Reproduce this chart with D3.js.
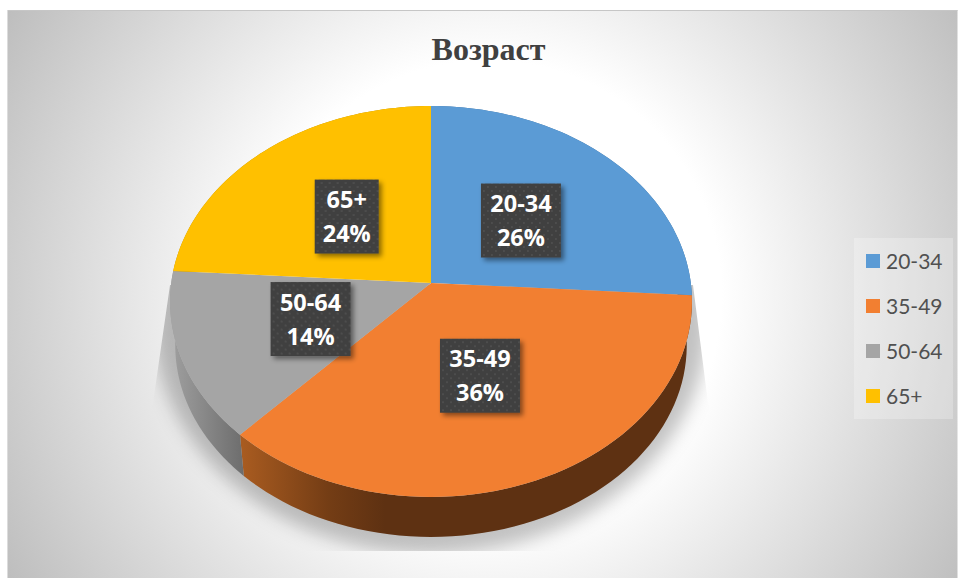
<!DOCTYPE html>
<html>
<head>
<meta charset="utf-8">
<script src="https://cdnjs.cloudflare.com/ajax/libs/d3/7.8.5/d3.min.js"></script>
<style>
	html, body { margin: 0; padding: 0; background: #fff; overflow: hidden; }
	svg { display: block; }
</style>
</head>
<body>
<div id="data-viz"></div>
<script>

const title = "Возраст"
const categories = ["20-34", "35-49", "50-64", "65+"]
const shares = [26, 36, 14, 24]
const topColours = ["#5b9bd5", "#f27f31", "#a5a5a5", "#ffc000"]

const width = 958, height = 578

// the disc is tipped back, so it goes through a small perspective divide
const disc = { cx: 431, cy: 283, ax: 259.8, ay: 193.7, tilt: 0.0946 }
const rim = { shrink: 0.98, drop: 44.3 }

const project = (angle, r = 1) => {

	let u = r * Math.sin(angle), v = r * Math.cos(angle), w = 1 + disc.tilt * v

	return [disc.cx + disc.ax * u / w, disc.cy - disc.ay * v / w]

}

const lower = (p) => [disc.cx + rim.shrink * (p[0] - disc.cx), disc.cy + rim.drop + rim.shrink * (p[1] - disc.cy)]

const arcPoints = (a, b) => d3.range(0, 61).map((i) => project(a + (b - a) * i / 60))

const line = d3.line()

const svg = d3.select("#data-viz").append("svg")
	.attr("width", width)
	.attr("height", height)

const defs = svg.append("defs")

const bg = defs.append("radialGradient")
	.attr("id", "bg")
	.attr("gradientUnits", "userSpaceOnUse")
	.attr("cx", 488).attr("cy", 294).attr("r", 556)

bg.append("stop").attr("offset", 0.42).attr("stop-color", "#fff")
bg.append("stop").attr("offset", 1).attr("stop-color", "#bebebe")

const sideGrad = (id, x1, x2, stops) => {

	let g = defs.append("linearGradient")
		.attr("id", id)
		.attr("gradientUnits", "userSpaceOnUse")
		.attr("x1", x1).attr("x2", x2).attr("y1", 0).attr("y2", 0)

	stops.forEach((s) => g.append("stop").attr("offset", s[0]).attr("stop-color", s[1]))

}

sideGrad("side0", 0, 1, [[0, "#3d6f9e"], [1, "#3d6f9e"]])
sideGrad("side1", 243, 385, [[0, "#a85b20"], [0.6, "#743d15"], [1, "#5e3112"]])
sideGrad("side2", 170, 245, [[0, "#a0a0a0"], [1, "#6c6c6c"]])
sideGrad("side3", 0, 1, [[0, "#b88b00"], [1, "#b88b00"]])

const blur = defs.append("filter")
	.attr("id", "blur")
	.attr("x", "-10%").attr("y", "-10%").attr("width", "120%").attr("height", "120%")

blur.append("feGaussianBlur").attr("stdDeviation", 9)

const drop = defs.append("filter")
	.attr("id", "drop")
	.attr("x", "-20%").attr("y", "-20%").attr("width", "150%").attr("height", "150%")

drop.append("feDropShadow")
	.attr("dx", 3).attr("dy", 3).attr("stdDeviation", 2.5)
	.attr("flood-color", "#000").attr("flood-opacity", 0.45)

const dots = defs.append("pattern")
	.attr("id", "dots")
	.attr("patternUnits", "userSpaceOnUse")
	.attr("width", 8).attr("height", 8)

dots.append("rect").attr("width", 8).attr("height", 8).attr("fill", "#404040")
dots.append("rect").attr("x", 2).attr("y", 2).attr("width", 2).attr("height", 2).attr("fill", "#4d4d4d")
dots.append("rect").attr("x", 6).attr("y", 6).attr("width", 2).attr("height", 2).attr("fill", "#4d4d4d")

defs.append("clipPath").attr("id", "shadow-clip")
	.append("polygon")
	.attr("points", "170,285 693,285 708,403 745,551 120,551 153,403")

// background
svg.append("rect")
	.attr("x", 7).attr("y", 10)
	.attr("width", 950.5).attr("height", 568)
	.attr("fill", "url(#bg)")

svg.append("rect").attr("x", 7).attr("y", 10).attr("width", 950.5).attr("height", 1).attr("fill", "#c6c6c6")
svg.append("rect").attr("x", 7).attr("y", 10).attr("width", 1).attr("height", 568).attr("fill", "#dcdcdc")

// title
svg.append("text")
	.attr("x", 488.5).attr("y", 60)
	.attr("text-anchor", "middle")
	.attr("font-family", "'Liberation Serif'")
	.attr("font-weight", "bold")
	.attr("font-size", 32)
	.attr("fill", "#404040")
	.text(title)

// pie
const pie = d3.pie().sort(null).value((d) => d)(shares)

// shadow under the pie
svg.append("g")
	.attr("clip-path", "url(#shadow-clip)")
	.append("ellipse")
	.attr("cx", disc.cx).attr("cy", 322)
	.attr("rx", 277).attr("ry", 232)
	.attr("fill", "#000")
	.attr("fill-opacity", 0.24)
	.attr("filter", "url(#blur)")

// sides
svg.append("g").selectAll("path")
	.data(pie)
	.join("path")
	.attr("d", (d) => {
		let top = arcPoints(d.startAngle, d.endAngle)
		let bottom = top.map(lower).reverse()
		return line(top.concat(bottom)) + "Z"
	})
	.attr("fill", (d, i) => `url(#side${i})`)

// top surface
svg.append("g").selectAll("path")
	.data(pie)
	.join("path")
	.attr("d", (d) => line([[disc.cx, disc.cy]].concat(arcPoints(d.startAngle, d.endAngle))) + "Z")
	.attr("fill", (d, i) => topColours[i])

// data labels
const labels = svg.append("g").selectAll("g")
	.data(pie)
	.join("g")
	.attr("transform", (d) => `translate(${project((d.startAngle + d.endAngle) / 2, 0.49)})`)

labels.append("rect")
	.attr("x", (d, i) => i == 3 ? -32 : -40)
	.attr("y", -36.5)
	.attr("width", (d, i) => i == 3 ? 64 : 80)
	.attr("height", 74)
	.attr("fill", "url(#dots)")
	.attr("filter", "url(#drop)")

labels.append("text")
	.attr("text-anchor", "middle")
	.attr("y", -8)
	.attr("font-family", "'Open Sans'")
	.attr("font-weight", "bold")
	.attr("font-size", 23.5)
	.attr("fill", "#fff")
	.text((d, i) => categories[i])

labels.append("text")
	.attr("text-anchor", "middle")
	.attr("y", 26)
	.attr("font-family", "'Open Sans'")
	.attr("font-weight", "bold")
	.attr("font-size", 23.5)
	.attr("fill", "#fff")
	.text((d) => `${d.data}%`)

// legend
svg.append("rect")
	.attr("x", 854).attr("y", 238)
	.attr("width", 99).attr("height", 181)
	.attr("fill", "#fff")
	.attr("fill-opacity", 0.25)

const rowY = d3.scalePoint()
	.domain(categories)
	.range([261, 396])

const rows = svg.append("g").selectAll("g")
	.data(categories)
	.join("g")
	.attr("transform", (d) => `translate(866,${rowY(d)})`)

rows.append("rect")
	.attr("y", -7)
	.attr("width", 14).attr("height", 14)
	.attr("fill", (d, i) => topColours[i])

rows.append("text")
	.attr("x", 20).attr("y", 7.5)
	.attr("font-family", "Lato")
	.attr("font-size", 21)
	.attr("fill", "#505050")
	.text((d) => d)

</script>
</body>
</html>
